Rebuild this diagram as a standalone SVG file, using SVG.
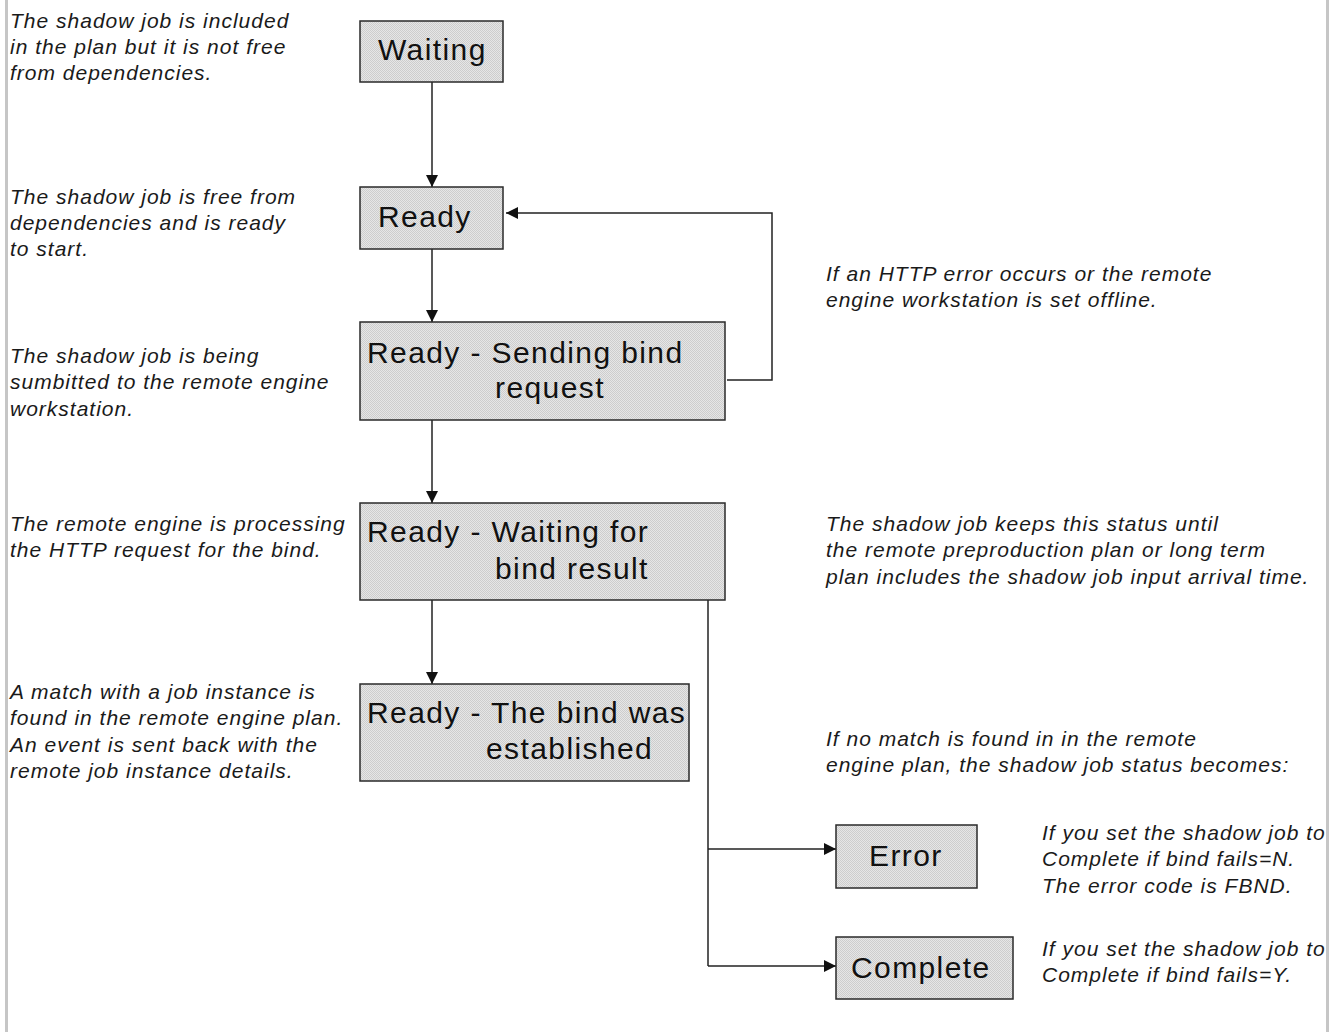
<svg xmlns="http://www.w3.org/2000/svg" width="1340" height="1032" viewBox="0 0 1340 1032">
  <style>
    .box { fill: url(#dither); stroke: #2a2a2a; stroke-width: 1.5; }
    .label { font-family: "Liberation Sans", Arial, sans-serif; font-size: 30px; letter-spacing: 1.4px; fill: #111; }
    .note { font-family: "Liberation Sans", Arial, sans-serif; font-size: 21px; font-style: italic; letter-spacing: 1px; fill: #1a1a1a; }
    .wire { fill: none; stroke: #222; stroke-width: 1.5; }
    .edge { fill: #c6c6c6; }
  </style>
  <defs>
    <!-- fine dithered grey fill used by every state box -->
    <pattern id="dither" width="2" height="2" patternUnits="userSpaceOnUse">
      <rect width="2" height="2" fill="#e6e6e6"/>
      <rect width="1" height="1" fill="#cdcdcd"/>
      <rect x="1" y="1" width="1" height="1" fill="#cdcdcd"/>
    </pattern>
    <marker id="arrow" viewBox="0 0 12 12" refX="12" refY="6" markerWidth="12" markerHeight="12" markerUnits="userSpaceOnUse" orient="auto">
      <path d="M0,0 L12,6 L0,12 Z" fill="#111"/>
    </marker>
  </defs>

  <rect width="1340" height="1032" fill="#fff"/>
  <!-- page frame edges -->
  <rect class="edge" x="5" y="0" width="3" height="1032"/>
  <rect class="edge" x="1326" y="0" width="3" height="1032"/>

  <!-- connectors -->
  <g id="connectors">
    <path class="wire" d="M432,82 V187" marker-end="url(#arrow)"/>
    <path class="wire" d="M432,249 V322" marker-end="url(#arrow)"/>
    <path class="wire" d="M432,420 V503" marker-end="url(#arrow)"/>
    <path class="wire" d="M432,600 V684" marker-end="url(#arrow)"/>
    <path class="wire" d="M727,380 H772 V213 H506" marker-end="url(#arrow)"/>
    <path class="wire" d="M708,600 V966"/>
    <path class="wire" d="M708,849 H836" marker-end="url(#arrow)"/>
    <path class="wire" d="M708,966 H836" marker-end="url(#arrow)"/>
  </g>

  <!-- states -->
  <g id="waiting">
    <rect class="box" x="360" y="21" width="143" height="61"/>
    <text class="label" x="378" y="60">Waiting</text>
  </g>
  <g id="ready">
    <rect class="box" x="360" y="187" width="143" height="62"/>
    <text class="label" x="378" y="227">Ready</text>
  </g>
  <g id="sending-bind">
    <rect class="box" x="360" y="322" width="365" height="98"/>
    <text class="label" x="367" y="363">Ready - Sending bind</text>
    <text class="label" x="495" y="398">request</text>
  </g>
  <g id="waiting-bind-result">
    <rect class="box" x="360" y="503" width="365" height="97"/>
    <text class="label" x="367" y="542">Ready - Waiting for</text>
    <text class="label" x="495" y="579">bind result</text>
  </g>
  <g id="bind-established">
    <rect class="box" x="360" y="684" width="329" height="97"/>
    <text class="label" x="367" y="723">Ready - The bind was</text>
    <text class="label" x="486" y="759">established</text>
  </g>
  <g id="error">
    <rect class="box" x="836" y="825" width="141" height="63"/>
    <text class="label" x="869" y="866">Error</text>
  </g>
  <g id="complete">
    <rect class="box" x="836" y="937" width="177" height="62"/>
    <text class="label" x="851" y="978">Complete</text>
  </g>

  <!-- explanatory notes -->
  <g id="notes">
    <text class="note" x="10" y="28">The shadow job is included</text>
    <text class="note" x="10" y="54">in the plan but it is not free</text>
    <text class="note" x="10" y="80">from dependencies.</text>

    <text class="note" x="10" y="204">The shadow job is free from</text>
    <text class="note" x="10" y="230">dependencies and is ready</text>
    <text class="note" x="10" y="256">to start.</text>

    <text class="note" x="10" y="363">The shadow job is being</text>
    <text class="note" x="10" y="389">sumbitted to the remote engine</text>
    <text class="note" x="10" y="416">workstation.</text>

    <text class="note" x="10" y="531">The remote engine is processing</text>
    <text class="note" x="10" y="557">the HTTP request for the bind.</text>

    <text class="note" x="10" y="699">A match with a job instance is</text>
    <text class="note" x="10" y="725">found in the remote engine plan.</text>
    <text class="note" x="10" y="752">An event is sent back with the</text>
    <text class="note" x="10" y="778">remote job instance details.</text>

    <text class="note" x="826" y="281">If an HTTP error occurs or the remote</text>
    <text class="note" x="826" y="307">engine workstation is set offline.</text>

    <text class="note" x="826" y="531">The shadow job keeps this status until</text>
    <text class="note" x="826" y="557">the remote preproduction plan or long term</text>
    <text class="note" x="826" y="584">plan includes the shadow job input arrival time.</text>

    <text class="note" x="826" y="746">If no match is found in in the remote</text>
    <text class="note" x="826" y="772">engine plan, the shadow job status becomes:</text>

    <text class="note" x="1042" y="840">If you set the shadow job to</text>
    <text class="note" x="1042" y="866">Complete if bind fails=N.</text>
    <text class="note" x="1042" y="893">The error code is FBND.</text>

    <text class="note" x="1042" y="956">If you set the shadow job to</text>
    <text class="note" x="1042" y="982">Complete if bind fails=Y.</text>
  </g>
</svg>
